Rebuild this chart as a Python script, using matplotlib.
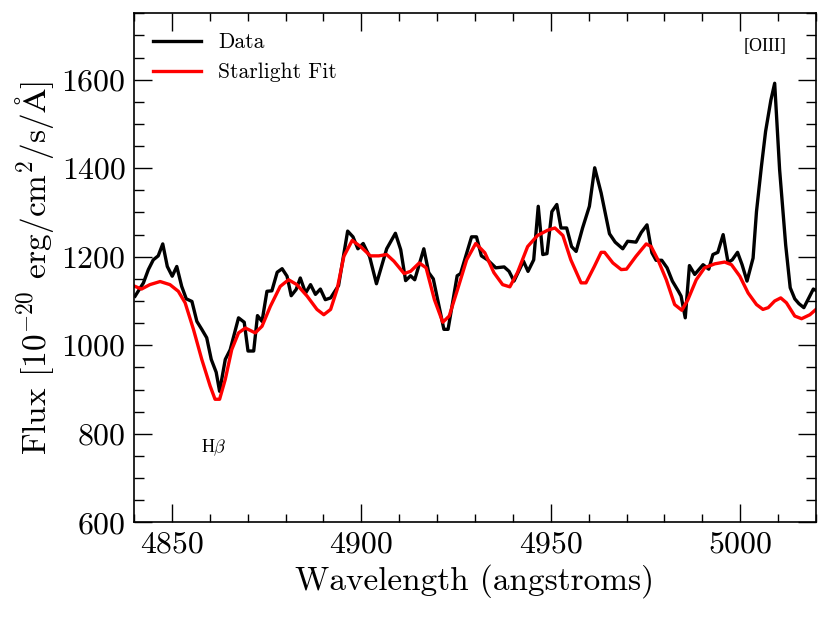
import numpy as np
import matplotlib
matplotlib.use("Agg")
import matplotlib.pyplot as plt

plt.rcParams['font.family'] = 'serif'
plt.rcParams['font.serif'] = ['cmr10']
plt.rcParams['mathtext.fontset'] = 'cm'
plt.rcParams['axes.unicode_minus'] = False

data_wave = [4840.3, 4842.5, 4843.8, 4845.1, 4846.4, 4847.6, 4848.8, 4850.1, 4851.3, 4852.6,
             4853.8, 4855.3, 4856.6, 4857.9, 4859.2, 4860.4, 4861.7, 4862.6, 4864.1, 4865.4,
             4867.6, 4869.1, 4870.1, 4871.6, 4872.6, 4873.8, 4875.1, 4876.4, 4877.8, 4879.1,
             4880.4, 4881.5, 4882.8, 4883.9, 4885.3, 4886.6, 4887.9, 4889.2, 4890.5, 4891.9,
             4894.0, 4896.4, 4897.8, 4899.1, 4900.5, 4902.2, 4904.0, 4906.7, 4909.0, 4910.4,
             4911.7, 4913.0, 4914.1, 4916.5, 4917.8, 4919.0, 4921.8, 4922.9, 4925.3, 4926.2,
             4929.1, 4930.4, 4931.7, 4933.3, 4935.5, 4937.7, 4939.0, 4940.3, 4942.8, 4944.0,
             4945.5, 4946.7, 4947.9, 4949.0, 4950.3, 4951.6, 4952.7, 4954.2, 4955.5, 4956.7,
             4958.4, 4960.2, 4961.6, 4963.3, 4965.5, 4967.0, 4969.0, 4970.3, 4972.5, 4973.9,
             4975.4, 4976.7, 4977.8, 4979.3, 4980.7, 4982.1, 4983.7, 4984.4, 4985.5, 4986.6,
             4988.0, 4990.2, 4991.7, 4992.8, 4994.1, 4995.5, 4996.8, 4997.9, 4999.3, 5000.5,
             5001.8, 5003.4, 5004.3, 5005.6, 5006.7, 5008.1, 5009.1, 5010.4, 5012.0, 5013.2,
             5014.4, 5015.5, 5016.8, 5018.0, 5019.3, 5020.0]
data_flux = [1111, 1141, 1171, 1193, 1202, 1229, 1178, 1156, 1178, 1133,
             1105, 1099, 1054, 1036, 1017, 968, 939, 896, 968, 990,
             1062, 1052, 987, 987, 1067, 1054, 1122, 1123, 1165, 1173,
             1156, 1112, 1126, 1152, 1118, 1137, 1115, 1127, 1103, 1107,
             1135, 1258, 1245, 1218, 1230, 1200, 1139, 1218, 1253, 1216,
             1146, 1157, 1148, 1218, 1164, 1150, 1036, 1036, 1157, 1162,
             1245, 1245, 1202, 1193, 1175, 1177, 1167, 1145, 1190, 1167,
             1193, 1314, 1205, 1207, 1302, 1318, 1265, 1265, 1223, 1212,
             1265, 1314, 1401, 1344, 1252, 1233, 1218, 1235, 1233, 1255,
             1272, 1209, 1192, 1192, 1175, 1145, 1122, 1111, 1062, 1180,
             1160, 1182, 1172, 1205, 1210, 1250, 1187, 1193, 1210, 1182,
             1145, 1197, 1302, 1404, 1483, 1554, 1592, 1397, 1227, 1130,
             1105, 1094, 1085, 1105, 1127, 1124]

# Starlight model fit
fit_wave = [4840.3, 4842.0, 4844.2, 4846.9, 4849.5, 4851.7, 4853.5, 4855.7, 4857.9, 4860.1,
            4861.4, 4862.6, 4864.1, 4865.8, 4867.6, 4869.4, 4872.0, 4873.8, 4876.0, 4878.6,
            4880.8, 4883.0, 4885.7, 4888.3, 4890.1, 4891.9, 4893.6, 4895.4, 4897.6, 4899.8,
            4902.4, 4904.6, 4906.7, 4908.6, 4911.3, 4913.0, 4915.3, 4917.1, 4919.3, 4921.5,
            4923.2, 4925.4, 4927.8, 4930.2, 4932.6, 4935.0, 4937.3, 4939.2, 4941.2, 4943.9,
            4946.5, 4949.2, 4951.1, 4953.2, 4955.3, 4958.0, 4959.3, 4961.5, 4963.3, 4964.2,
            4966.4, 4968.6, 4970.0, 4972.5, 4975.2, 4976.5, 4978.3, 4980.5, 4982.7, 4984.6,
            4986.2, 4988.4, 4990.6, 4993.3, 4995.9, 4997.7, 4999.9, 5002.1, 5004.3, 5006.0,
            5007.4, 5009.1, 5010.7, 5012.2, 5014.4, 5016.2, 5018.4, 5020.4]
fit_flux = [1133, 1127, 1137, 1144, 1137, 1122, 1096, 1036, 968, 908,
            878, 878, 923, 990, 1028, 1039, 1028, 1043, 1088, 1133,
            1148, 1137, 1111, 1081, 1069, 1081, 1126, 1201, 1237, 1223,
            1202, 1202, 1205, 1190, 1162, 1167, 1186, 1175, 1103, 1052,
            1066, 1126, 1193, 1230, 1209, 1164, 1137, 1132, 1164, 1223,
            1248, 1260, 1265, 1248, 1193, 1141, 1141, 1178, 1210, 1210,
            1186, 1171, 1172, 1201, 1229, 1223, 1193, 1148, 1092, 1079,
            1103, 1148, 1175, 1184, 1188, 1182, 1156, 1118, 1092, 1081,
            1085, 1100, 1107, 1096, 1066, 1060, 1069, 1084]

lines = ['[OIII]', r'H$\beta$']
line_x = [5006.5, 4861]
line_y = [1674, 768]

fig = plt.figure(figsize=(8.3, 6.19), dpi=100)
ax = fig.add_axes([0.1614, 0.1562, 0.8217, 0.8223])

ax.plot(data_wave, data_flux, color='black', lw=2.4, label='Data')
ax.plot(fit_wave, fit_flux, color='red', lw=2.4, label='Starlight Fit')

for name, x, y in zip(lines, line_x, line_y):
    ax.text(x, y, name, ha='center', va='center', fontsize=13,
            family='Liberation Serif')

ax.set_xlim(4840, 5020)
ax.set_ylim(600, 1750)
ax.set_xticks([4850, 4900, 4950, 5000])
ax.set_xticks(np.arange(4840, 5021, 10), minor=True)
ax.set_yticks(np.arange(600, 1601, 200))
ax.set_yticks(np.arange(600, 1751, 50), minor=True)
ax.tick_params(which='both', direction='in', top=True, right=True, labelsize=23)
ax.tick_params(which='major', length=13, width=1, pad=6)
ax.tick_params(which='minor', length=6, width=1)
ax.tick_params(axis='y', which='minor', length=7)
for s in ax.spines.values():
    s.set_linewidth(1.2)

ax.set_xlabel('Wavelength (angstroms)', fontsize=24)
ax.set_ylabel(r'Flux [$10^{-20}$ erg/cm$^2$/s/$\mathrm{\AA}$]', fontsize=24)

ax.legend(loc='upper left', frameon=False, fontsize=15.5, handlelength=2.2,
          borderaxespad=0.5)

plt.savefig('out.png', dpi=100)
